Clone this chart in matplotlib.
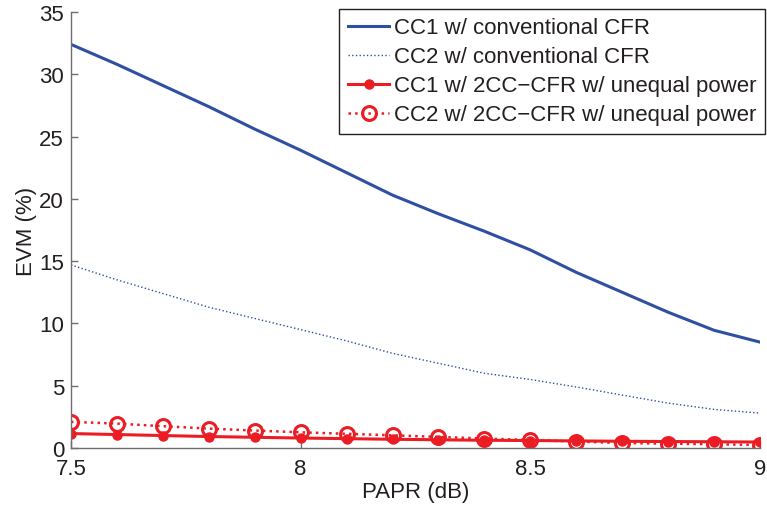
import matplotlib
matplotlib.use("Agg")
import matplotlib.pyplot as plt

plt.rcParams["font.family"] = ["Liberation Sans", "DejaVu Sans"]

papr = [7.5, 7.6, 7.7, 7.8, 7.9, 8.0, 8.1, 8.2, 8.3, 8.4, 8.5, 8.6, 8.7, 8.8, 8.9, 9.0]

cc1_conv = [32.4, 30.8, 29.1, 27.4, 25.6, 23.9, 22.1, 20.3, 18.8, 17.4, 15.9,
            14.1, 12.5, 10.9, 9.45, 8.5]
cc2_conv = [14.7, 13.5, 12.4, 11.3, 10.4, 9.5, 8.6, 7.6, 6.8, 6.0, 5.5,
            4.9, 4.25, 3.6, 3.1, 2.8]
cc1_2cc = [1.16, 1.08, 1.0, 0.92, 0.86, 0.8, 0.75, 0.70, 0.66, 0.62, 0.6,
           0.57, 0.54, 0.52, 0.5, 0.48]
cc2_2cc = [2.1, 1.96, 1.75, 1.56, 1.4, 1.26, 1.14, 1.02, 0.89, 0.76, 0.64,
           0.52, 0.4, 0.35, 0.3, 0.24]

labels = ["CC1 w/ conventional CFR",
          "CC2 w/ conventional CFR",
          "CC1 w/ 2CC\u2212CFR w/ unequal power",
          "CC2 w/ 2CC\u2212CFR w/ unequal power"]

blue = "#2f4fa3"
red = "#ec1c24"
ink = "#231f20"
fs = 16

fig = plt.figure(figsize=(7.67, 5.06), dpi=100)
ax = fig.add_axes([71 / 767, 1 - 449 / 506, 689 / 767, 436 / 506])

ax.plot(papr, cc1_conv, "-", color=blue, lw=2.2, label=labels[0])
ax.plot(papr, cc2_conv, ":", color=blue, lw=1.0, label=labels[1])
ax.plot(papr, cc1_2cc, "-", color=red, lw=2.2, marker="o", ms=6.5,
        mfc=red, mec=red, label=labels[2])
ax.plot(papr, cc2_2cc, ":", color=red, lw=1.8, marker="o", ms=10,
        mfc="none", mec=red, mew=2.2, label=labels[3])

ax.set_xlim(7.5, 9)
ax.set_ylim(0, 35)
ax.set_xticks([7.5, 8, 8.5, 9])
ax.set_xticklabels(["7.5", "8", "8.5", "9"])
ax.set_yticks(range(0, 36, 5))

for side in ("top", "right"):
    ax.spines[side].set_visible(False)
for side in ("left", "bottom"):
    ax.spines[side].set_color("#6d6e71")
    ax.spines[side].set_linewidth(1.0)
ax.tick_params(direction="in", length=5, width=1.0, color="#6d6e71",
               labelsize=fs, labelcolor=ink)
ax.tick_params(axis="x", pad=7)
ax.tick_params(axis="y", pad=5)

ax.set_xlabel("PAPR (dB)", fontsize=fs, color=ink, labelpad=2)
ax.set_ylabel("EVM (%)", fontsize=fs, color=ink, labelpad=1.5)

leg = ax.legend(loc="upper right", bbox_to_anchor=(765 / 767, 1 - 9.5 / 506),
                bbox_transform=fig.transFigure, fontsize=fs, frameon=True,
                fancybox=False, framealpha=1, edgecolor=ink,
                handlelength=1.85, handletextpad=0.2, labelspacing=0.36,
                borderpad=0.4, borderaxespad=0)
leg.get_frame().set_linewidth(1.0)
for t in leg.get_texts():
    t.set_color(ink)

fig.savefig("out.png", dpi=100)
